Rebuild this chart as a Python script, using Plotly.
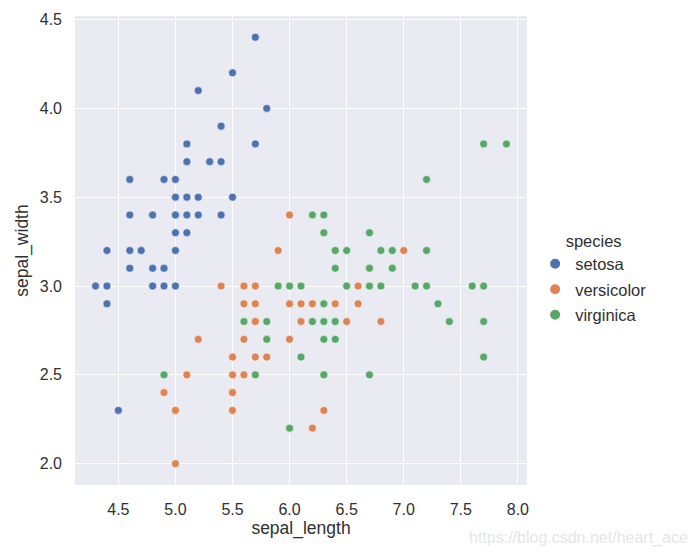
import plotly.graph_objects as go

species = ["setosa", "versicolor", "virginica"]
colors = ["#4C72B0", "#DD8452", "#55A868"]

setosa_len = [5.1,4.9,4.7,4.6,5.0,5.4,4.6,5.0,4.4,4.9,5.4,4.8,4.8,4.3,5.8,5.7,5.4,5.1,5.7,5.1,
              5.4,5.1,4.6,5.1,4.8,5.0,5.0,5.2,5.2,4.7,4.8,5.4,5.2,5.5,4.9,5.0,5.5,4.9,4.4,5.1,
              5.0,4.5,4.4,5.0,5.1,4.8,5.1,4.6,5.3,5.0]
setosa_wid = [3.5,3.0,3.2,3.1,3.6,3.9,3.4,3.4,2.9,3.1,3.7,3.4,3.0,3.0,4.0,4.4,3.9,3.5,3.8,3.8,
              3.4,3.7,3.6,3.3,3.4,3.0,3.4,3.5,3.4,3.2,3.1,3.4,4.1,4.2,3.1,3.2,3.5,3.6,3.0,3.4,
              3.5,2.3,3.2,3.5,3.8,3.0,3.8,3.2,3.7,3.3]

versicolor_len = [7.0,6.4,6.9,5.5,6.5,5.7,6.3,4.9,6.6,5.2,5.0,5.9,6.0,6.1,5.6,6.7,5.6,5.8,6.2,5.6,
                  5.9,6.1,6.3,6.1,6.4,6.6,6.8,6.7,6.0,5.7,5.5,5.5,5.8,6.0,5.4,6.0,6.7,6.3,5.6,5.5,
                  5.5,6.1,5.8,5.0,5.6,5.7,5.7,6.2,5.1,5.7]
versicolor_wid = [3.2,3.2,3.1,2.3,2.8,2.8,3.3,2.4,2.9,2.7,2.0,3.0,2.2,2.9,2.9,3.1,3.0,2.7,2.2,2.5,
                  3.2,2.8,2.5,2.8,2.9,3.0,2.8,3.0,2.9,2.6,2.4,2.4,2.7,2.7,3.0,3.4,3.1,2.3,3.0,2.5,
                  2.6,3.0,2.6,2.3,2.7,3.0,2.9,2.9,2.5,2.8]

virginica_len = [6.3,5.8,7.1,6.3,6.5,7.6,4.9,7.3,6.7,7.2,6.5,6.4,6.8,5.7,5.8,6.4,6.5,7.7,7.7,6.0,
                 6.9,5.6,7.7,6.3,6.7,7.2,6.2,6.1,6.4,7.2,7.4,7.9,6.4,6.3,6.1,7.7,6.3,6.4,6.0,6.9,
                 6.7,6.9,5.8,6.8,6.7,6.7,6.3,6.5,6.2,5.9]
virginica_wid = [3.3,2.7,3.0,2.9,3.0,3.0,2.5,2.9,2.5,3.6,3.2,2.7,3.0,2.5,2.8,3.2,3.0,3.8,2.6,2.2,
                 3.2,2.8,2.8,2.7,3.3,3.2,2.8,3.0,2.8,3.0,2.8,3.8,2.8,2.8,2.6,3.0,3.4,3.1,3.0,3.1,
                 3.1,3.1,2.7,3.2,3.3,3.0,2.5,3.0,3.4,3.0]

x_ticks = [4.5, 5.0, 5.5, 6.0, 6.5, 7.0, 7.5, 8.0]
y_ticks = [2.0, 2.5, 3.0, 3.5, 4.0, 4.5]

data = [(setosa_len, setosa_wid), (versicolor_len, versicolor_wid), (virginica_len, virginica_wid)]

FONT = "Liberation Sans, Arial, sans-serif"
TXT = "#303030"
fig = go.Figure()
for name, col, (xs, ys) in zip(species, colors, data):
    fig.add_trace(go.Scatter(
        x=xs, y=ys, mode="markers", name=name, legendgroup=name,
        marker=dict(color=col, size=8, line=dict(color="white", width=0.6)),
    ))

fig.update_layout(
    width=698, height=556,
    margin=dict(l=75, r=171, t=16, b=71),
    paper_bgcolor="white", plot_bgcolor="#EAEAF2",
    font=dict(family=FONT, size=16, color=TXT),
    showlegend=True,
    legend=dict(
        title=dict(text="species", font=dict(size=16.5, color=TXT), side="top center"),
        x=1.018, xanchor="left", y=0.44, yanchor="middle",
        font=dict(size=16.5, color=TXT), tracegroupgap=1,
        bgcolor="rgba(0,0,0,0)", itemsizing="constant",
    ),
    xaxis=dict(
        range=[4.12, 8.08], tickvals=x_ticks, ticktext=[f"{v:.1f}" for v in x_ticks],
        showgrid=True, gridcolor="white", gridwidth=1.2, zeroline=False,
        showline=False, ticks="", tickfont=dict(size=16, color=TXT),
        ticklabelstandoff=13, automargin=False,
        title=dict(text="sepal_length", font=dict(size=17.5, color=TXT), standoff=4),
    ),
    yaxis=dict(
        range=[1.88, 4.52], tickvals=y_ticks, ticktext=[f"{v:.1f}" for v in y_ticks],
        showgrid=True, gridcolor="white", gridwidth=1.2, zeroline=False,
        showline=False, ticks="", tickfont=dict(size=16, color=TXT),
        ticklabelstandoff=12, automargin=False,
        title=dict(text="sepal_width", font=dict(size=17.5, color=TXT), standoff=6),
    ),
)

fig.add_annotation(
    text="https://blog.csdn.net/heart_ace", xref="paper", yref="paper",
    x=1.0 + 163/452, xanchor="right", y=-(538 - 485) / 469, yanchor="middle",
    showarrow=False, font=dict(family=FONT, size=16, color="#e6e6e6"),
)

fig.write_html("out.html")
